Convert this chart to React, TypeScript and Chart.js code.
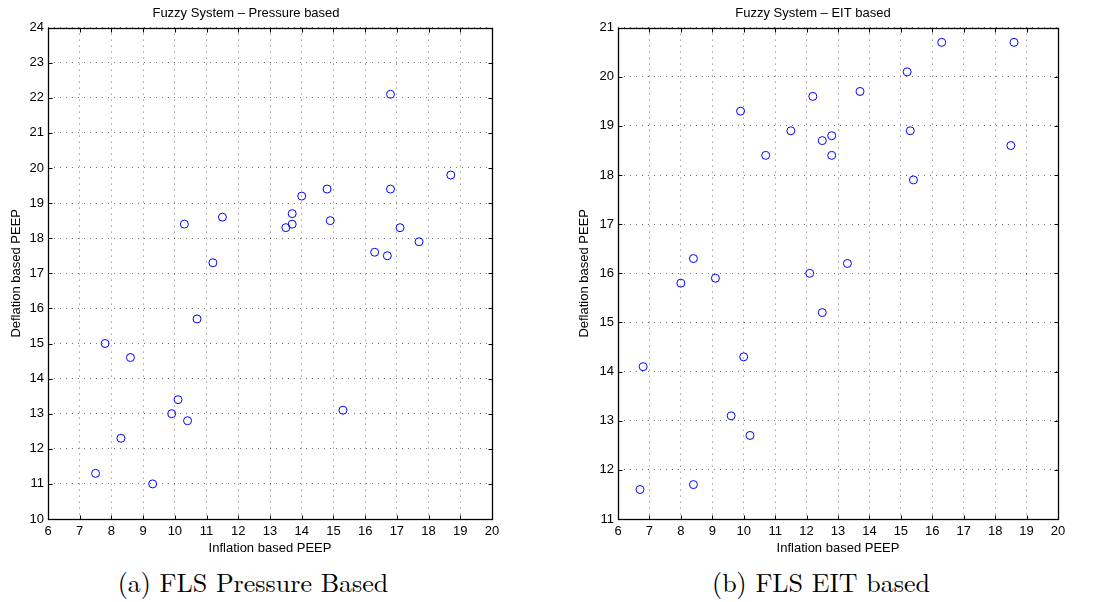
import React, { useEffect, useRef } from "react";
import { Chart, registerables } from "chart.js";

Chart.register(...registerables);

// ---------- Data ----------
const pressureInflation = [16.8, 18.7, 16.8, 14.8, 14.0, 13.7, 13.7, 13.5, 14.9, 11.5, 10.3, 11.2, 17.1, 17.7, 16.3, 16.7, 10.7, 7.8, 8.6, 10.1, 9.9, 10.4, 15.3, 8.3, 7.5, 9.3];
const pressureDeflation = [22.1, 19.8, 19.4, 19.4, 19.2, 18.7, 18.4, 18.3, 18.5, 18.6, 18.4, 17.3, 18.3, 17.9, 17.6, 17.5, 15.7, 15.0, 14.6, 13.4, 13.0, 12.8, 13.1, 12.3, 11.3, 11.0];

const eitInflation = [16.3, 18.6, 15.2, 13.7, 12.2, 9.9, 11.5, 15.3, 12.8, 12.5, 12.8, 10.7, 18.5, 15.4, 8.4, 8.0, 9.1, 12.1, 13.3, 12.5, 6.8, 10.0, 9.6, 10.2, 6.7, 8.4];
const eitDeflation = [20.7, 20.7, 20.1, 19.7, 19.6, 19.3, 18.9, 18.9, 18.8, 18.7, 18.4, 18.4, 18.6, 17.9, 16.3, 15.8, 15.9, 16.0, 16.2, 15.2, 14.1, 14.3, 13.1, 12.7, 11.6, 11.7];

const xRange = [6, 20];
const pressureYRange = [10, 24];
const eitYRange = [11, 21];

const titles = ["Fuzzy System \u2013 Pressure based", "Fuzzy System \u2013 EIT based"];
const xAxisLabel = "Inflation based PEEP";
const yAxisLabel = "Deflation based PEEP";
const captions = ["(a) FLS Pressure Based", "(b) FLS EIT based"];

const SANS = "'Liberation Sans', Arial, Helvetica, sans-serif";
const SERIF = "'Latin Modern Roman', 'Liberation Serif', 'Times New Roman', serif";

const framePlugin = {
  id: "matlabFrame",
  afterDatasetsDraw(chart: any) {
    const { ctx, chartArea } = chart;
    const { left, right, top, bottom } = chartArea;
    const xs = chart.scales.x;
    const ys = chart.scales.y;
    const L = Math.round(left) + 0.5;
    const R = Math.round(right) + 0.5;
    const T = Math.round(top) + 0.5;
    const B = Math.round(bottom) + 0.5;
    ctx.save();
    ctx.strokeStyle = "#000";
    ctx.lineWidth = 1;
    ctx.beginPath();
    const tl = 4;
    xs.ticks.forEach((t: any) => {
      const px = Math.round(xs.getPixelForValue(t.value)) + 0.5;
      ctx.moveTo(px, B);
      ctx.lineTo(px, B - tl);
      ctx.moveTo(px, T);
      ctx.lineTo(px, T + tl);
    });
    ys.ticks.forEach((t: any) => {
      const py = Math.round(ys.getPixelForValue(t.value)) + 0.5;
      ctx.moveTo(L, py);
      ctx.lineTo(L + tl, py);
      ctx.moveTo(R, py);
      ctx.lineTo(R - tl, py);
    });
    ctx.stroke();
    ctx.lineWidth = 1.3;
    ctx.strokeRect(L, T, R - L, B - T);
    ctx.restore();
  },
};

type PanelProps = {
  left: number;
  width: number;
  height: number;
  title: string;
  xs: number[];
  ys: number[];
  yRange: number[];
  yAxisWidth: number;
  yTitlePad: number;
};

function ScatterPanel(p: PanelProps) {
  const ref = useRef<HTMLCanvasElement | null>(null);
  useEffect(() => {
    if (!ref.current) return;
    const data = p.xs.map((x, i) => ({ x, y: p.ys[i] }));
    const chart = new Chart(ref.current, {
      type: "scatter",
      data: {
        datasets: [
          {
            data,
            pointStyle: "circle",
            pointRadius: 4,
            pointHoverRadius: 4,
            pointBorderWidth: 1,
            borderColor: "#0000ff",
            backgroundColor: "rgba(0,0,0,0)",
          },
        ],
      },
      options: {
        responsive: false,
        animation: false,
        events: [],
        layout: { padding: { left: 0, right: 14, top: 0, bottom: 0 } },
        plugins: {
          legend: { display: false },
          tooltip: { enabled: false },
          title: {
            display: true,
            text: p.title,
            color: "#000",
            font: { family: SANS, size: 13, weight: "normal" },
            padding: { top: 6, bottom: 6 },
          },
        },
        scales: {
          x: {
            type: "linear",
            min: xRange[0],
            max: xRange[1],
            afterFit: (s: any) => {
              s.height = 41;
            },
            ticks: {
              stepSize: 1,
              autoSkip: false,
              maxRotation: 0,
              color: "#000",
              padding: 5,
              font: { family: SANS, size: 13 },
            },
            grid: { color: "rgba(0,0,0,0.55)", drawTicks: false, lineWidth: 1 },
            border: { display: false, dash: [1, 5] },
            title: {
              display: true,
              text: xAxisLabel,
              color: "#000",
              font: { family: SANS, size: 13 },
              padding: { top: 0, bottom: 4 },
            },
          },
          y: {
            type: "linear",
            min: p.yRange[0],
            max: p.yRange[1],
            afterFit: (s: any) => {
              s.width = p.yAxisWidth;
            },
            ticks: {
              stepSize: 1,
              autoSkip: false,
              color: "#000",
              padding: 4,
              font: { family: SANS, size: 13 },
            },
            grid: { color: "rgba(0,0,0,0.55)", drawTicks: false, lineWidth: 1 },
            border: { display: false, dash: [1, 5] },
            title: {
              display: true,
              text: yAxisLabel,
              color: "#000",
              font: { family: SANS, size: 13 },
              padding: { top: p.yTitlePad, bottom: 0 },
            },
          },
        },
      } as any,
      plugins: [framePlugin],
    });
    return () => chart.destroy();
  }, []);
  return (
    <canvas
      ref={ref}
      width={p.width}
      height={p.height}
      style={{ position: "absolute", left: p.left, top: 0, width: p.width, height: p.height }}
    />
  );
}

export default function App() {
  return (
    <div
      style={{
        position: "absolute",
        left: 0,
        top: 0,
        width: 1103,
        height: 602,
        background: "#fff",
        overflow: "hidden",
      }}
    >
      <ScatterPanel
        left={0}
        width={506}
        height={560}
        title={titles[0]}
        xs={pressureInflation}
        ys={pressureDeflation}
        yRange={pressureYRange}
        yAxisWidth={48}
        yTitlePad={9}
      />
      <ScatterPanel
        left={568}
        width={504}
        height={560}
        title={titles[1]}
        xs={eitInflation}
        ys={eitDeflation}
        yRange={eitYRange}
        yAxisWidth={50}
        yTitlePad={9}
      />
      <div
        style={{
          position: "absolute",
          left: 53,
          top: 566,
          width: 400,
          textAlign: "center",
          fontFamily: SERIF,
          fontSize: 26,
          lineHeight: "32px",
          color: "#000",
        }}
      >
        {captions[0]}
      </div>
      <div
        style={{
          position: "absolute",
          left: 621,
          top: 566,
          width: 400,
          textAlign: "center",
          fontFamily: SERIF,
          fontSize: 26,
          lineHeight: "32px",
          color: "#000",
        }}
      >
        {captions[1]}
      </div>
    </div>
  );
}
